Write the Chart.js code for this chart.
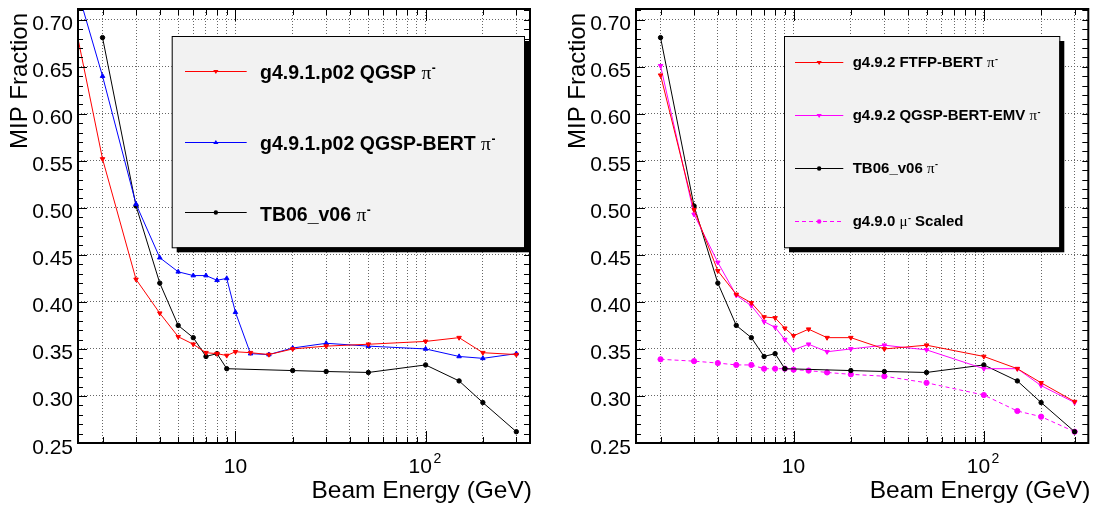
<!DOCTYPE html>
<html>

<head>
  <title>MIP Fraction vs Beam Energy</title>
  <script type="text/javascript" src="https://cdn.jsdelivr.net/npm/chart.js"></script>
  <style>
    body { margin: 0; background: #ffffff; }
    .panel { position: absolute; top: 0; height: 510px; }
    #left-panel { left: 0; width: 547px; }
    #right-panel { left: 547px; width: 548px; }
  </style>
</head>

<body>

  <div class="panel" id="left-panel"><canvas id="left-chart"></canvas></div>
  <div class="panel" id="right-panel"><canvas id="right-chart"></canvas></div>

  <script type="text/javascript">
    // beam energies (GeV)
    const energies_g491 = [1, 2, 3, 4, 5, 6, 7, 8, 9, 10, 12, 15, 20, 30, 50, 100, 150, 200, 300];
    const energies_g492 = [2, 3, 4, 5, 6, 7, 8, 9, 10, 12, 15, 20, 30, 50, 100, 150, 200, 300];
    const energies_tb06 = [2, 3, 4, 5, 6, 7, 8, 9, 20, 30, 50, 100, 150, 200, 300];

    // left panel
    const qgsp_g491 = [0.850, 0.552, 0.424, 0.388, 0.363, 0.355, 0.346, 0.345, 0.343, 0.347, 0.346, 0.344, 0.350, 0.353, 0.355, 0.358, 0.362, 0.346, 0.344];
    const qgsp_bert_g491 = [0.849, 0.640, 0.504, 0.447, 0.432, 0.428, 0.428, 0.423, 0.425, 0.389, 0.345, 0.344, 0.351, 0.356, 0.353, 0.350, 0.342, 0.340, 0.345];
    const tb06_v06 = [0.681, 0.502, 0.420, 0.375, 0.362, 0.342, 0.345, 0.329, 0.327, 0.326, 0.325, 0.333, 0.316, 0.293, 0.262];

    // right panel
    const ftfp_bert_g492 = [0.641, 0.498, 0.433, 0.408, 0.399, 0.384, 0.383, 0.372, 0.364, 0.371, 0.362, 0.362, 0.350, 0.354, 0.342, 0.329, 0.314, 0.294];
    const qgsp_bert_emv_g492 = [0.651, 0.493, 0.442, 0.407, 0.396, 0.379, 0.373, 0.360, 0.349, 0.355, 0.347, 0.350, 0.354, 0.349, 0.329, 0.329, 0.311, 0.293];
    const mu_scaled_g490 = [0.339, 0.337, 0.335, 0.333, 0.333, 0.329, 0.329, 0.329, 0.328, 0.327, 0.325, 0.323, 0.321, 0.314, 0.301, 0.284, 0.278, 0.262];

    // axes
    const x_range = [1.486, 354];
    const y_range = [0.25, 0.7114];
    const y_tick_labels = ['0.25', '0.30', '0.35', '0.40', '0.45', '0.50', '0.55', '0.60', '0.65', '0.70'];
    const y_minor_step = 0.01;
    const x_grid_values = [2, 3, 4, 5, 6, 7, 8, 9, 10, 20, 30, 40, 50, 60, 70, 80, 90, 100, 200, 300];
    const x_decades = [10, 100];

    const FONT = '"Liberation Sans", Arial, Helvetica, sans-serif';
    const SYMBOL_FONT = '"Liberation Serif", "DejaVu Serif", serif';

    function Points(xs, ys) {
        return xs.map((x, i) => ({ x: x, y: ys[i] }));
    }

    function Series(label, xs, ys, color, marker, extra) {
        return Object.assign({
            label: label,
            data: Points(xs, ys),
            borderColor: color,
            backgroundColor: color,
            pointBackgroundColor: color,
            pointBorderColor: color,
            borderWidth: 1,
            pointBorderWidth: 1,
            pointRadius: marker === 'circle' ? 2.2 : 2.6,
            pointStyle: marker === 'circle' ? 'circle' : 'triangle',
            pointRotation: marker === 'down' ? 180 : 0,
            tension: 0,
            fill: false
        }, extra || {});
    }

    function DrawMarker(ctx, marker, x, y, color) {
        ctx.fillStyle = color;
        ctx.beginPath();
        if (marker === 'circle') {
            ctx.arc(x, y, 2.2, 0, Math.PI * 2);
        } else if (marker === 'down') {
            ctx.moveTo(x - 2.6, y - 1.6); ctx.lineTo(x + 2.6, y - 1.6); ctx.lineTo(x, y + 2.6);
        } else {
            ctx.moveTo(x - 2.6, y + 1.6); ctx.lineTo(x + 2.6, y + 1.6); ctx.lineTo(x, y - 2.6);
        }
        ctx.closePath();
        ctx.fill();
    }

    function DrawLegend(ctx, legend) {
        const b = legend.box;
        ctx.fillStyle = '#000000';
        ctx.fillRect(b.x + 5, b.y + 5, b.w, b.h);
        ctx.fillStyle = '#f2f2f2';
        ctx.fillRect(b.x, b.y, b.w, b.h);
        ctx.strokeStyle = '#000000';
        ctx.lineWidth = 1;
        ctx.strokeRect(b.x + 0.5, b.y + 0.5, b.w, b.h);

        const size = legend.fontSize;
        legend.rows.forEach((row, i) => {
            const y = b.y + legend.rowY[i];
            ctx.save();
            ctx.strokeStyle = row.color;
            ctx.lineWidth = 1;
            ctx.setLineDash(row.dash || []);
            ctx.beginPath();
            ctx.moveTo(b.x + legend.line[0], Math.round(y) + 0.5);
            ctx.lineTo(b.x + legend.line[1], Math.round(y) + 0.5);
            ctx.stroke();
            ctx.restore();
            DrawMarker(ctx, row.marker, b.x + (legend.line[0] + legend.line[1]) / 2, Math.round(y) + 0.5, row.color);

            const base = y + legend.baseline;
            let x = b.x + legend.textX;
            ctx.fillStyle = '#000000';
            ctx.textAlign = 'left';
            ctx.textBaseline = 'alphabetic';
            ctx.font = 'bold ' + size + 'px ' + FONT;
            ctx.fillText(row.text + ' ', x, base);
            x += ctx.measureText(row.text + ' ').width;
            ctx.font = size + 'px ' + SYMBOL_FONT;
            ctx.fillText(row.symbol, x, base);
            x += ctx.measureText(row.symbol).width;
            ctx.font = 'bold ' + Math.round(size * 0.6) + 'px ' + FONT;
            ctx.fillText('-', x + 0.5, base - size * 0.35);
            x += ctx.measureText('-').width + 0.5;
            if (row.tail) {
                ctx.font = 'bold ' + size + 'px ' + FONT;
                ctx.fillText(row.tail, x, base);
            }
        });
    }

    function RootFramePlugin(legend) {
        return {
            id: 'rootFrame',
            afterDraw(chart) {
                const ctx = chart.ctx;
                const a = chart.chartArea;
                const xs = chart.scales.x;
                const ys = chart.scales.y;
                ctx.save();

                DrawLegend(ctx, legend);

                // frame
                ctx.strokeStyle = '#000000';
                ctx.lineWidth = 2;
                ctx.strokeRect(a.left, a.top, a.right - a.left, a.bottom - a.top);

                // inward ticks
                ctx.lineWidth = 1;
                ctx.beginPath();
                const n = Math.round((y_range[1] - y_range[0]) / y_minor_step);
                for (let i = 0; i <= n; i += 1) {
                    const v = y_range[0] + i * y_minor_step;
                    if (v > y_range[1]) break;
                    const y = Math.round(ys.getPixelForValue(v)) + 0.5;
                    const major = i % 5 === 0;
                    ctx.moveTo(a.left, y); ctx.lineTo(a.left + (major ? 9 : 5), y);
                    ctx.moveTo(a.right, y); ctx.lineTo(a.right - 6, y);
                }
                for (const v of x_grid_values) {
                    const x = Math.round(xs.getPixelForValue(v)) + 0.5;
                    const len = x_decades.includes(v) ? 12 : 6;
                    ctx.moveTo(x, a.bottom); ctx.lineTo(x, a.bottom - len);
                    ctx.moveTo(x, a.top); ctx.lineTo(x, a.top + len);
                }
                ctx.stroke();

                // tick labels
                ctx.fillStyle = '#000000';
                ctx.textBaseline = 'alphabetic';
                ctx.font = '21px ' + FONT;
                ctx.textAlign = 'right';
                for (const label of y_tick_labels) {
                    const y = ys.getPixelForValue(parseFloat(label));
                    ctx.fillText(label, a.left - 5, y + 10.5);
                }
                ctx.textAlign = 'left';
                const base = a.bottom + 30;
                let x10 = xs.getPixelForValue(10);
                let w = ctx.measureText('10').width;
                ctx.fillText('10', x10 - w / 2, base);
                const x100 = xs.getPixelForValue(100);
                ctx.font = '14px ' + FONT;
                const w2 = ctx.measureText('2').width;
                const start = x100 - (w + 1 + w2) / 2 - 1;
                ctx.font = '21px ' + FONT;
                ctx.fillText('10', start, base);
                ctx.font = '14px ' + FONT;
                ctx.fillText('2', start + w + 1.5, base - 10);

                // axis titles
                ctx.font = '24.5px ' + FONT;
                ctx.textAlign = 'right';
                ctx.fillText('Beam Energy (GeV)', a.right + 2, a.bottom + 55);
                ctx.save();
                ctx.translate(a.left - 51, a.top + 4);
                ctx.rotate(-Math.PI / 2);
                ctx.font = '24px ' + FONT;
                ctx.textAlign = 'right';
                ctx.fillText('MIP Fraction', 0, 0);
                ctx.restore();

                ctx.restore();
            }
        };
    }

    function MakePanel(canvas_id, datasets, legend, axis_width, pad_right) {
        const grid = { color: '#666666', lineWidth: 1, drawTicks: false, drawOnChartArea: true };
        return new Chart(document.getElementById(canvas_id), {
            type: 'line',
            data: { datasets: datasets },
            options: {
                responsive: true,
                maintainAspectRatio: false,
                animation: false,
                layout: { padding: { left: 0, right: pad_right, top: 9, bottom: 0 } },
                plugins: { legend: { display: false }, tooltip: { enabled: false } },
                scales: {
                    x: {
                        type: 'logarithmic',
                        bounds: 'data',
                        min: x_range[0],
                        max: x_range[1],
                        afterBuildTicks: s => { s.ticks = x_grid_values.map(v => ({ value: v })); },
                        afterFit: s => { s.height = 67; },
                        ticks: { display: false },
                        grid: grid,
                        border: { display: false, dash: [1, 2] }
                    },
                    y: {
                        type: 'linear',
                        bounds: 'data',
                        min: y_range[0],
                        max: y_range[1],
                        afterBuildTicks: s => { s.ticks = y_tick_labels.slice(1).map(l => ({ value: parseFloat(l) })); },
                        afterFit: s => { s.width = axis_width; },
                        ticks: { display: false },
                        grid: grid,
                        border: { display: false, dash: [1, 2] }
                    }
                }
            },
            plugins: [RootFramePlugin(legend)]
        });
    }

    window.onload = function() {
        MakePanel('left-chart', [
            Series('g4.9.1.p02 QGSP', energies_g491, qgsp_g491, '#ff0000', 'down'),
            Series('g4.9.1.p02 QGSP-BERT', energies_g491, qgsp_bert_g491, '#0000ff', 'up'),
            Series('TB06_v06', energies_tb06, tb06_v06, '#000000', 'circle')
        ], {
            box: { x: 171.7, y: 36, w: 352.3, h: 211.3 },
            fontSize: 19.5,
            rowY: [34.7, 105.7, 176.3],
            line: [13.3, 75],
            textX: 88.3,
            baseline: 8.6,
            rows: [
                { text: 'g4.9.1.p02 QGSP', symbol: 'π', color: '#ff0000', marker: 'down' },
                { text: 'g4.9.1.p02 QGSP-BERT', symbol: 'π', color: '#0000ff', marker: 'up' },
                { text: 'TB06_v06', symbol: 'π', color: '#000000', marker: 'circle' }
            ]
        }, 78, 17);

        MakePanel('right-chart', [
            Series('g4.9.2 FTFP-BERT', energies_g492, ftfp_bert_g492, '#ff0000', 'down'),
            Series('g4.9.2 QGSP-BERT-EMV', energies_g492, qgsp_bert_emv_g492, '#ff00ff', 'down'),
            Series('TB06_v06', energies_tb06, tb06_v06, '#000000', 'circle'),
            Series('g4.9.0 mu Scaled', energies_g492, mu_scaled_g490, '#ff00ff', 'circle', { borderDash: [4, 3], pointRadius: 2.6 })
        ], {
            box: { x: 237, y: 36, w: 275.3, h: 211.3 },
            fontSize: 15,
            rowY: [26.3, 79, 131.7, 185],
            line: [11, 59.3],
            textX: 68.7,
            baseline: 5,
            rows: [
                { text: 'g4.9.2 FTFP-BERT', symbol: 'π', color: '#ff0000', marker: 'down' },
                { text: 'g4.9.2 QGSP-BERT-EMV', symbol: 'π', color: '#ff00ff', marker: 'down' },
                { text: 'TB06_v06', symbol: 'π', color: '#000000', marker: 'circle' },
                { text: 'g4.9.0', symbol: 'μ', tail: ' Scaled', color: '#ff00ff', marker: 'circle', dash: [4, 3] }
            ]
        }, 89, 6.7);
    };
  </script>

</body>

</html>
